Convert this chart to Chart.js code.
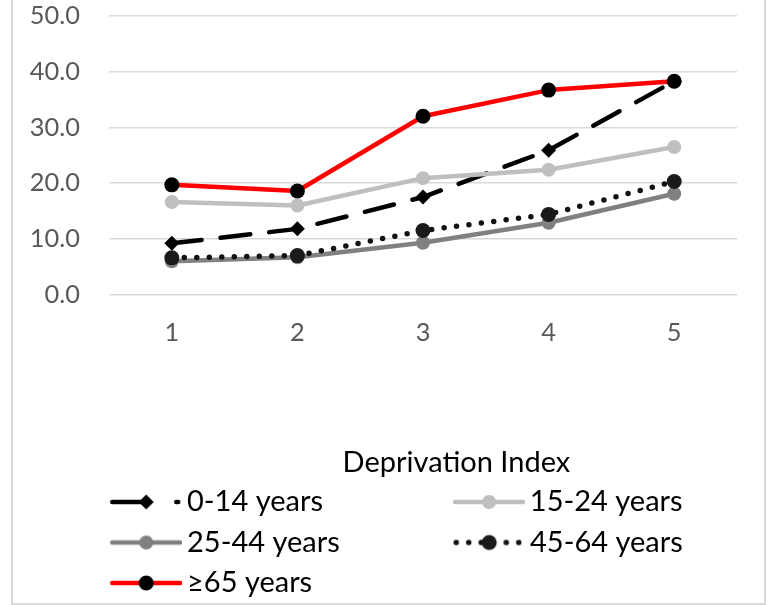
<!DOCTYPE html>
<html>
<head>
<meta charset="utf-8">
<title>Deprivation Index by age group</title>
<script src="https://cdn.jsdelivr.net/npm/chart.js@4"></script>
<style>
  html, body { margin: 0; padding: 0; background: #ffffff; }
  #wrap { position: relative; width: 768px; height: 605px; overflow: hidden; background: #ffffff; }
  #frame { position: absolute; left: 11px; top: -10px; width: 755px; height: 615px;
           box-sizing: border-box; border: 2px solid #d9d9d9; pointer-events: none; }
  canvas { position: absolute; left: 0; top: 0; }
</style>
</head>
<body>
<div id="wrap">
  <canvas id="chart" width="768" height="605"></canvas>
  <div id="frame"></div>
</div>
<script>
// Deprivation index quintiles (x axis)
const categories = ['1', '2', '3', '4', '5'];

// Rates per age group, one value per quintile
const age0to14  = [9.2, 11.8, 17.5, 25.9, 38.3];
const age15to24 = [16.6, 16.0, 20.9, 22.4, 26.5];
const age25to44 = [6.0, 6.7, 9.3, 12.9, 18.1];
const age45to64 = [6.6, 7.0, 11.5, 14.4, 20.3];
const age65plus = [19.7, 18.6, 32.0, 36.7, 38.3];

const seriesNames = ['0-14 years', '15-24 years', '25-44 years', '45-64 years', '\u226565 years'];

// Value axis ticks
const valueTicks = [0, 10, 20, 30, 40, 50];

const axisTitle = 'Deprivation Index';

// ---- typography ----
const FAMILY = 'Lato, "Liberation Sans", "DejaVu Sans", sans-serif';
const TICK_SIZE = 25.4;
const LEGEND_SIZE = 29;
const LEGEND_PAD = 11.5;

const measureCtx = document.createElement('canvas').getContext('2d');
measureCtx.font = 'normal ' + LEGEND_SIZE + 'px ' + FAMILY;
const textW = s => measureCtx.measureText(s).width;

// Legend is laid out in two columns: left-column texts get invisible trailing
// padding so the right-column entries line up.
const COL_SPAN = 156;
function padTo(s, target) {
  let out = s;
  while (textW(out + ' ') <= target + 0.01) out += ' ';
  let guard = 0;
  while (textW(out) < target - 0.3 && guard++ < 40) {
    const next = out + '\u200A';
    if (textW(next) <= textW(out)) break;
    out = next;
  }
  return out;
}
const colTarget = Math.max(COL_SPAN, textW(seriesNames[0]), textW(seriesNames[2]));
const legendText = seriesNames.slice();
legendText[0] = padTo(seriesNames[0], colTarget);
legendText[2] = padTo(seriesNames[2], colTarget);
const colWidth = Math.max(textW(legendText[0]), textW(legendText[2]));
const LEFT = Math.max(0, colWidth - COL_SPAN);
const BOX_W = 172.5 - (LEFT + LEGEND_PAD);

// shift of the axis title centre to the right of the plot centre
const titleShift = 64;
const titleText = ' '.repeat(Math.round(titleShift / textW(' '))) + axisTitle;

const datasets = [
  {
    label: seriesNames[0], data: age0to14,
    borderColor: '#000000', backgroundColor: '#000000',
    borderWidth: 4.5, borderDash: [30, 19], borderCapStyle: 'round', borderJoinStyle: 'round',
    pointStyle: 'rectRot', pointRadius: 7.5, pointBackgroundColor: '#000000', pointBorderWidth: 0,
    order: 5
  },
  {
    label: seriesNames[1], data: age15to24,
    borderColor: '#bfbfbf', backgroundColor: '#bfbfbf',
    borderWidth: 4.5, borderCapStyle: 'round', borderJoinStyle: 'round',
    pointStyle: 'circle', pointRadius: 7, pointBackgroundColor: '#bfbfbf', pointBorderWidth: 0,
    order: 4
  },
  {
    label: seriesNames[2], data: age25to44,
    borderColor: '#808080', backgroundColor: '#808080',
    borderWidth: 4.5, borderCapStyle: 'round', borderJoinStyle: 'round',
    pointStyle: 'circle', pointRadius: 7, pointBackgroundColor: '#808080', pointBorderWidth: 0,
    order: 3
  },
  {
    label: seriesNames[3], data: age45to64,
    borderColor: '#111111', backgroundColor: '#111111',
    borderWidth: 5.5, borderDash: [0, 12.5], borderCapStyle: 'round', borderJoinStyle: 'round',
    pointStyle: 'circle', pointRadius: 7.5, pointBackgroundColor: '#1a1a1a', pointBorderWidth: 0,
    order: 2
  },
  {
    label: seriesNames[4], data: age65plus,
    borderColor: '#ff0000', backgroundColor: '#ff0000',
    borderWidth: 4.5, borderCapStyle: 'round', borderJoinStyle: 'round',
    pointStyle: 'circle', pointRadius: 7.5, pointBackgroundColor: '#000000', pointBorderWidth: 0,
    order: 1
  }
];

// Legend swatch: a short stretch of the series line with its marker in the middle
function legendSwatch(ds) {
  const c = document.createElement('canvas');
  const W = Math.round(BOX_W + 19);
  const H = 22;
  c.width = W; c.height = H;
  const g = c.getContext('2d');
  const xs = W - 72, xe = W, cy = H / 2, cx = W - 36;
  g.strokeStyle = ds.borderColor;
  g.lineWidth = ds.borderWidth;
  g.lineCap = 'round';
  g.beginPath();
  if (ds.borderDash && ds.borderDash[0] === 0) {
    g.setLineDash([0, 12.5]);
    g.moveTo(xs + 3, cy); g.lineTo(xe - 2, cy);
  } else if (ds.borderDash) {
    g.setLineDash([34, 30]);
    g.moveTo(xs + 2, cy); g.lineTo(xe - 4, cy);
  } else {
    g.moveTo(xs + 2, cy); g.lineTo(xe - 2, cy);
  }
  g.stroke();
  g.setLineDash([]);
  g.fillStyle = ds.pointBackgroundColor;
  Chart.helpers.drawPoint(g, { pointStyle: ds.pointStyle, radius: ds.pointRadius, rotation: 0, borderWidth: 0 }, cx, cy);
  return c;
}

new Chart(document.getElementById('chart'), {
  type: 'line',
  data: { labels: categories, datasets },
  options: {
    responsive: false,
    animation: false,
    events: [],
    layout: { padding: { left: LEFT, right: 31, top: 16, bottom: -2.5 } },
    elements: { line: { tension: 0, fill: false } },
    scales: {
      x: {
        offset: true,
        grid: { display: false, drawTicks: false },
        border: { display: false },
        ticks: { padding: 23, color: '#595959', font: { family: FAMILY, size: TICK_SIZE } },
        title: {
          display: true, text: titleText, color: '#000000',
          font: { family: FAMILY, size: LEGEND_SIZE, lineHeight: 0.9 },
          padding: { top: 78.8, bottom: 0 }
        }
      },
      y: {
        min: 0, max: 50,
        afterBuildTicks: s => { s.ticks = valueTicks.map(v => ({ value: v })); },
        afterFit: s => { s.width = 109 - LEFT; },
        // the gap between labels and plot comes from an invisible tick mark
        grid: { color: '#d9d9d9', lineWidth: 1.5, drawTicks: true, tickLength: 29, tickColor: 'rgba(0,0,0,0)' },
        border: { display: false },
        ticks: {
          padding: 0, color: '#595959', font: { family: FAMILY, size: TICK_SIZE },
          callback: v => Number(v).toFixed(1)
        }
      }
    },
    plugins: {
      tooltip: { enabled: false },
      legend: {
        position: 'bottom',
        align: 'start',
        labels: {
          usePointStyle: true,
          pointStyleWidth: BOX_W,
          padding: LEGEND_PAD,
          color: '#000000',
          font: { family: FAMILY, size: LEGEND_SIZE },
          generateLabels: chart => chart.data.datasets.map((ds, i) => ({
            text: legendText[i],
            pointStyle: legendSwatch(ds),
            fillStyle: ds.borderColor,
            strokeStyle: ds.borderColor,
            lineWidth: 0,
            hidden: false,
            datasetIndex: i,
            fontColor: '#000000'
          }))
        }
      }
    }
  }
});
</script>
</body>
</html>
